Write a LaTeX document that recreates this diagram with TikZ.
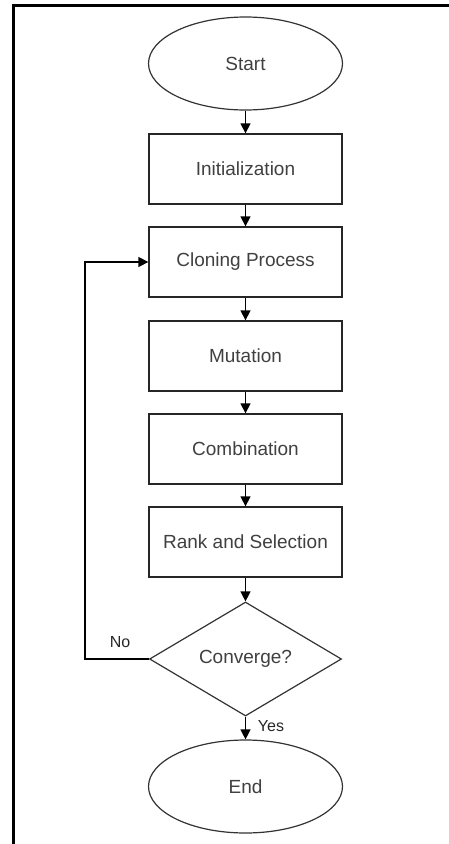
\documentclass[tikz,border=0pt]{standalone}
\usepackage{fontspec}
\setmainfont{Liberation Sans}
\usetikzlibrary{shapes.geometric,arrows.meta}
\begin{document}
\begin{tikzpicture}[x=1pt,y=-1pt,
  every node/.style={font=\fontsize{19}{22}\selectfont, text=black!75},
  term/.style={ellipse, draw=black!80, line width=1.2pt, minimum width=194pt, minimum height=93pt, inner sep=0pt},
  procbox/.style={rectangle, draw=black!85, line width=1.3pt, minimum width=193pt, minimum height=70pt, inner sep=0pt},
  decide/.style={diamond, draw=black!80, line width=1.2pt, minimum width=192pt, minimum height=114pt, inner sep=0pt},
  conn/.style={draw=black, line width=1.3pt, -{Triangle[length=10pt,width=10pt]}},
  lbl/.style={font=\fontsize{16}{19}\selectfont, text=black!85}]
\useasboundingbox (0,0) rectangle (449,844);
\fill[white] (0,0) rectangle (449,844);
% frame (top and left edges)
\draw[line width=3pt, black] (13,844) -- (13,5) -- (449,5);
\node[term] (start) at (245.5,63.5) {Start};
\node[procbox] (init) at (245.5,169) {Initialization};
\node[procbox] (clone) at (245.5,262) {Cloning Process};
\node[procbox] (mut) at (245.5,356) {Mutation};
\node[procbox] (comb) at (245.5,449) {Combination};
\node[procbox] (rank) at (245.5,542) {Rank and Selection};
\node[decide] (conv) at (245.5,659) {Converge?};
\node[term] (end) at (245.5,786.5) {End};
\coordinate (fb) at (85,0);
\draw[conn] (start) -- (init);
\draw[conn] (init) -- (clone);
\draw[conn] (clone) -- (mut);
\draw[conn] (mut) -- (comb);
\draw[conn] (comb) -- (rank);
\draw[conn] (rank) -- (conv);
\draw[conn] (conv) -- (end);
\draw[conn] (conv.west) -- (fb |- conv.west) -- (fb |- clone.west) -- (clone.west);
\node[lbl] (no) at (120,642) {No};
\node[lbl] (yes) at (271,726) {Yes};
\end{tikzpicture}
\end{document}
